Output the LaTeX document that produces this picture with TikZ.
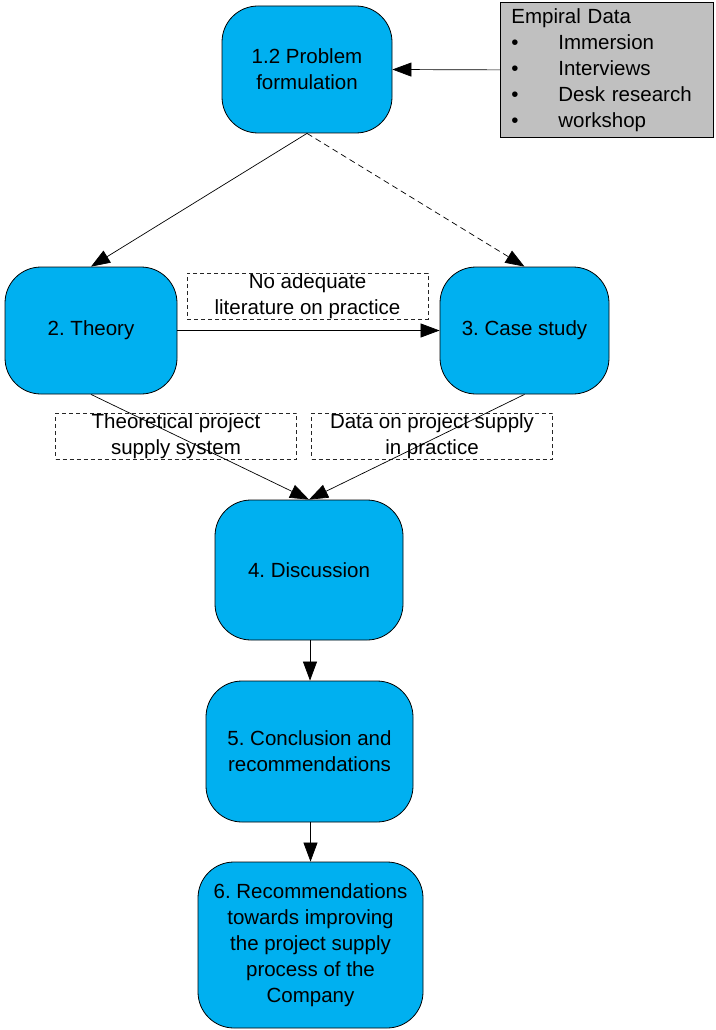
\documentclass[tikz,border=0pt]{standalone}
\usepackage{fontspec}
\setmainfont{Liberation Sans}
\usetikzlibrary{arrows.meta}
\definecolor{stepblue}{HTML}{00B0F0}
\definecolor{datagray}{HTML}{C0C0C0}
\newcommand{\bitem}{\makebox[47pt][l]{\textbullet}}
\frenchspacing
\begin{document}
\begin{tikzpicture}[x=1pt,y=-1pt,
  font=\fontsize{20.5}{26}\selectfont,
  stage/.style={draw=black, line width=0.8pt, fill=stepblue, rounded corners=36pt,
    align=center, inner sep=0pt},
  note/.style={draw=black!85, dash pattern=on 4pt off 3pt, line width=0.6pt,
    align=center, inner sep=0pt, minimum width=241pt, minimum height=46pt},
  link/.style={draw=black, line width=0.7pt, -{Triangle[length=19pt,width=14pt]}},
]
\useasboundingbox (0,0) rectangle (715,1030);

% process stages
\node[stage, minimum width=170pt, minimum height=127pt] (p1) at (307,69.5) {1.2 Problem\\formulation};
\node[stage, minimum width=172pt, minimum height=127pt] (theory) at (91,330.5) {2. Theory};
\node[stage, minimum width=169pt, minimum height=127pt] (case) at (524.5,330.5) {3. Case study};
\node[stage, minimum width=188pt, minimum height=140pt] (disc) at (309,570) {4. Discussion};
\node[stage, minimum width=207pt, minimum height=141pt] (concl) at (309.5,751.5) {5. Conclusion and\\recommendations};
\node[stage, minimum width=225pt, minimum height=166pt] (recs) at (310.5,945) {6. Recommendations\\towards improving\\the project supply\\process of the\\Company};

% data sources
\node[draw=black, line width=0.8pt, fill=datagray, anchor=north west,
  minimum width=213pt, minimum height=135pt, text width=191pt,
  inner xsep=11pt, inner ysep=0pt, align=left] (data) at (500,2)
  {Empiral Data\\ \bitem Immersion\\ \bitem Interviews\\ \bitem Desk research\\ \bitem workshop};

% flow annotations
\node[note] (n1) at (307.5,296) {No adequate\\literature on practice};
\node[note] (n2) at (176,436) {Theoretical project\\supply system};
\node[note] (n3) at (432,436) {Data on project supply\\in practice};

% connectors
\draw[link] (data.west) -- (p1.east);
\draw[link] (p1.south) -- (theory.north);
\draw[link, dash pattern=on 6pt off 4pt] (p1.south) -- (case.north);
\draw[link] (theory.east) -- (case.west);
\draw[link] (theory.south) -- (disc.north);
\draw[link] (case.south) -- (disc.north);
\draw[link] ([xshift=1pt]disc.south) -- ([xshift=1pt]disc.south |- concl.north);
\draw[link] ([xshift=1pt]concl.south) -- ([xshift=1pt]concl.south |- recs.north);
\end{tikzpicture}
\end{document}
